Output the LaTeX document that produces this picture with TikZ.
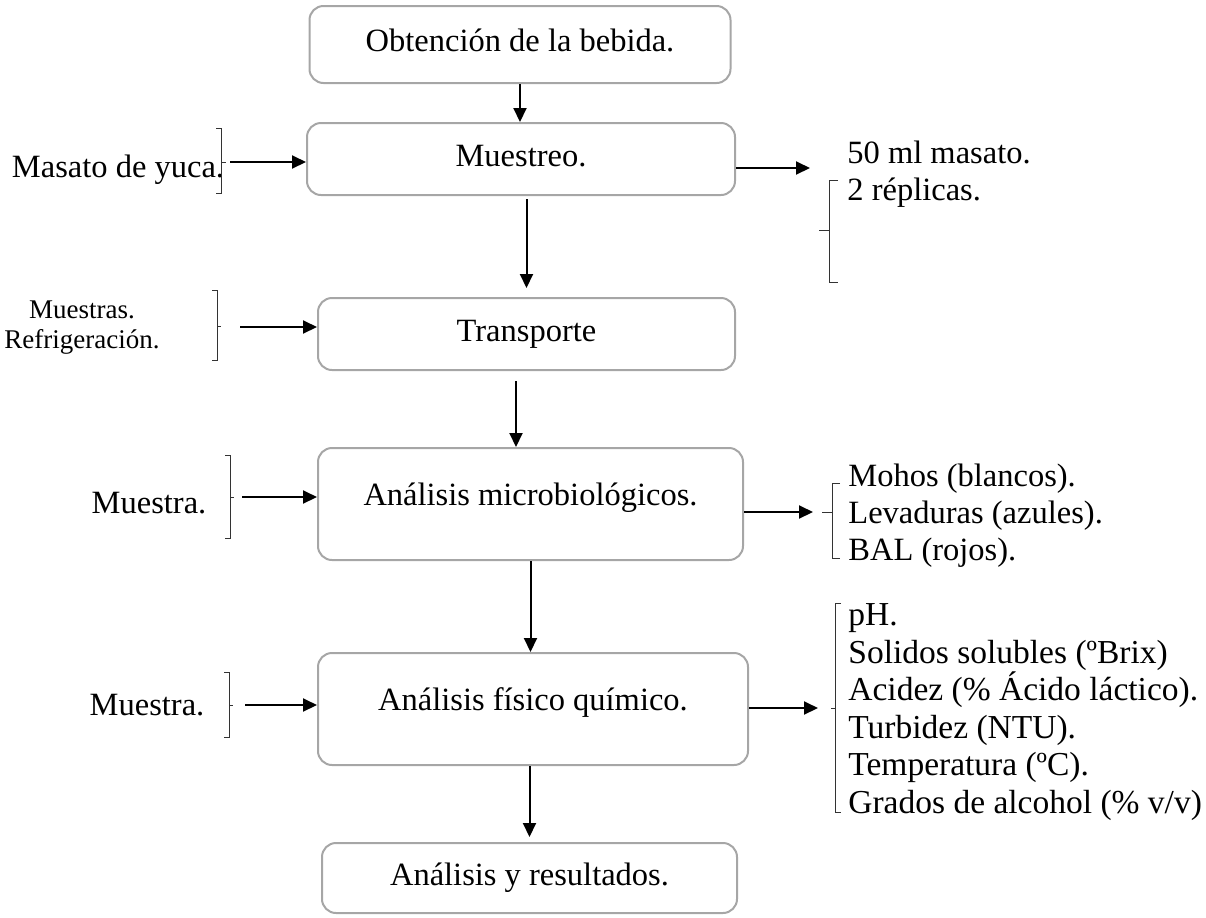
\documentclass[tikz,border=0pt]{standalone}
\usepackage{fontspec}
\setmainfont{Liberation Serif}
\usetikzlibrary{arrows.meta, positioning}

\begin{document}
\begin{tikzpicture}[
    x=0.5pt, y=-0.5pt,
    font=\fontsize{16.25}{18.5}\selectfont,
    box/.style={rectangle, draw=black!35, line width=1pt, rounded corners=7pt, text centered, text height=11pt, text depth=4pt, inner sep=0pt},
    tallbox/.style={box, text depth=10pt},
    arrow/.style={-{Triangle[length=7pt,width=6.5pt]}, line width=1pt},
    brack/.style={line width=0.5pt, black!80},
    txt/.style={inner sep=0pt, align=left}
]
\useasboundingbox (0,0) rectangle (1206,917);

% Main steps
\node[box, minimum width=210.5pt, minimum height=38.5pt] (obt) at (520,44.5) {Obtención de la bebida.};
\node[box, minimum width=214pt, minimum height=36pt] (mue) at (521,159) {Muestreo.};
\node[box, minimum width=208.5pt, minimum height=36pt] (tra) at (526.5,334) {Transporte};
\node[tallbox, minimum width=212.5pt, minimum height=56pt] (mic) at (530.5,504) {Análisis microbiológicos.};
\node[tallbox, minimum width=215pt, minimum height=56pt] (fis) at (533,709) {Análisis físico químico.};
\node[box, minimum width=207.5pt, minimum height=35pt] (res) at (529.5,878) {Análisis y resultados.};

% Arrows between steps
\draw[arrow] (obt.south) -- (obt.south |- mue.north);
\draw[arrow, shorten <=1.5pt, shorten >=4.5pt] (tra.north |- mue.south) -- (tra.north);
\draw[arrow, shorten <=5pt] ([xshift=-5.25pt]tra.south) -- ([xshift=-5.25pt]tra.south |- mic.north);
\draw[arrow] (mic.south) -- (mic.south |- fis.north);
\draw[arrow, shorten >=2.5pt] (res.north |- fis.south) -- (res.north);

% Inputs (left)
\node[txt] (lyuca) at (118,170) {Masato de yuca.};
\draw[brack] (216,128) -- (221,128) -- (221,193) -- (216,193) (221,162) -- (226,162);
\coordinate (inyuca) at (230,162);
\draw[arrow] (inyuca) -- (inyuca -| mue.west);

\node[txt, align=center, font=\fontsize{13.5}{15}\selectfont] (lmues) at (82,328) {Muestras.\\Refrigeración.};
\draw[brack] (212,290) -- (217,290) -- (217,360) -- (212,360) (217,326) -- (221,326);
\coordinate (intra) at (240,327);
\draw[arrow] (intra) -- (intra -| tra.west);

\node[txt] (lmic1) at (149,503) {Muestra.};
\draw[brack] (225,455) -- (230,455) -- (230,538) -- (225,538) (230,497) -- (234,497);
\coordinate (inmic) at (242,497);
\draw[arrow] (inmic) -- (inmic -| mic.west);

\node[txt] (lfis1) at (147,705) {Muestra.};
\draw[brack] (224,672) -- (229,672) -- (229,737) -- (224,737) (229,705) -- (233,705);
\coordinate (infis) at (245,705);
\draw[arrow] (infis) -- (infis -| fis.west);

% Outputs (right)
\coordinate (outmue) at (810,168);
\draw[arrow] (outmue -| mue.east) -- (outmue);
\draw[brack] (838,180) -- (829,180) -- (829,282) -- (838,282) (829,230) -- (819,230);
\node[txt, anchor=west] (lmue) at (847,174) {50 ml masato.\\2 réplicas.};

\coordinate (outmic) at (813,512);
\draw[arrow] (outmic -| mic.east) -- (outmic);
\draw[brack] (840,483) -- (832,483) -- (832,558) -- (840,558) (832,512) -- (822,512);
\node[txt, anchor=west] (lmic) at (848,516) {Mohos (blancos).\\Levaduras (azules).\\BAL (rojos).};

\coordinate (outfis) at (818,708);
\draw[arrow] (outfis -| fis.east) -- (outfis);
\draw[brack] (841,603) -- (835,603) -- (835,812) -- (841,812) (835,708) -- (831,708);
\node[txt, anchor=west, font=\fontsize{16.75}{18.8}\selectfont] (lfis) at (848,712) {pH.\\Solidos solubles (ºBrix)\\Acidez (\% Ácido láctico).\\Turbidez (NTU).\\Temperatura (ºC).\\Grados de alcohol (\% v/v)};

\end{tikzpicture}
\end{document}
